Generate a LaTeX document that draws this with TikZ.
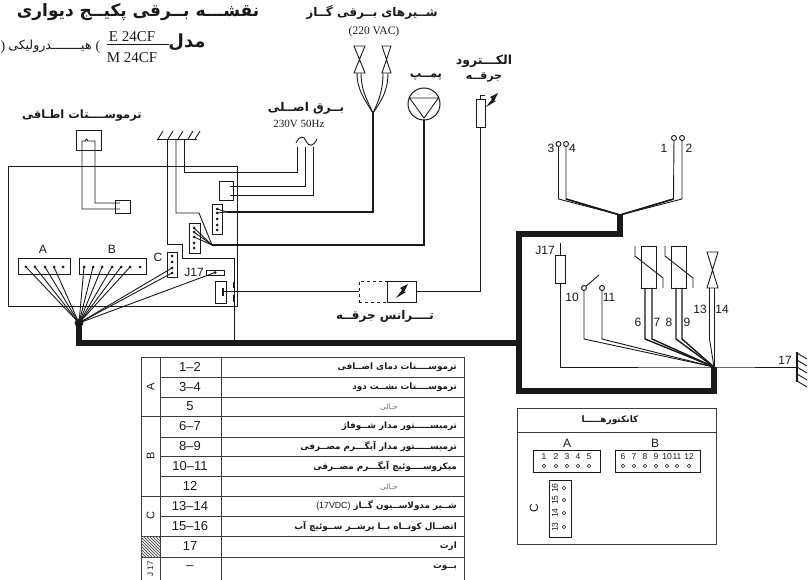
\documentclass[tikz,border=0pt]{standalone}
\usepackage{fontspec}
\setmainfont{Liberation Sans}
\newfontfamily\fa[Script=Arabic]{DejaVu Sans}
\newfontfamily\ser{Liberation Serif}
\TeXXeTstate=1
\newcommand{\fatxt}[1]{{\fa\beginR #1\endR}}
\newcommand{\fsize}[1]{\fontsize{#1}{#1}\selectfont}
\newcommand{\sparkmark}[2]{\fill[ink] (#1-6,#2+7) -- (#1+0,#2-1) -- (#1-2,#2-3) -- (#1+6,#2-7) -- (#1+2,#2+1) -- (#1+4,#2+1) -- cycle;}
\newcommand{\trow}[4]{%
  \node[numcell] (n#1) at (190,#2) {#3};
  \node[txtcell] (t#1) at (457,#2) {#4};}
\colorlet{ink}{black!90}
\usetikzlibrary{calc}
\tikzset{
  x=1pt,y=-1pt,
  wire/.style={draw=ink,line width=0.9pt},
  mwire/.style={draw=ink,line width=1.4pt},
  bus/.style={draw=ink,line width=5.5pt,line join=miter},
  boxn/.style={draw=ink,line width=0.85pt,inner sep=0pt,fill=white,rectangle},
  pin/.style={circle,fill=ink,inner sep=0pt,minimum size=3pt},
  ring/.style={circle,draw=ink,line width=0.9pt,fill=white,inner sep=0pt,minimum size=5pt},
  kring/.style={circle,draw=ink,line width=0.6pt,fill=white,inner sep=0pt,minimum size=3.4pt},
  lab/.style={inner sep=0pt,font=\fsize{12},text=ink},
  numcell/.style={inner sep=0pt,font=\fsize{13},text=ink},
  txtcell/.style={inner sep=0pt,anchor=east,font=\fsize{8.8}\bfseries,text=ink},
  grid/.style={draw=ink!85,line width=1pt},
  fa/.style={inner sep=0pt,text=ink},
  num/.style={inner sep=0pt,font=\fsize{8.5},text=ink},
}
\begin{document}
\begin{tikzpicture}
\useasboundingbox (0,0) rectangle (809,580);
% ---- titles
\node[fa,font=\fsize{17}\bfseries] (title) at (138,12) {\fatxt{نقشـــه بــرقی پکیــج دیواری}};
\node[fa,font=\fsize{18}\bfseries] (model) at (187,42) {\fatxt{مدل}};
\node[inner sep=0pt,font=\fsize{15}\ser,text=ink] (e24) at (132,37) {E 24CF};
\node[inner sep=0pt,font=\fsize{15}\ser,text=ink] (m24) at (132,58) {M 24CF};
\draw[wire] (e24.south west) ++(-2,2.5) coordinate (fracl) -- ++(62,0) coordinate (fracr);
\node[fa,font=\fsize{14}\ser] (hyd1) at (98,47) {(};
\node[fa,font=\fsize{12.5}] (hyd) at (50,46) {\fatxt{هیــــــــدرولیکی}};
\node[fa,font=\fsize{14}\ser] (hyd2) at (3,47) {)};
\node[fa,font=\fsize{11.5}\bfseries] (troom) at (82,116) {\fatxt{ترموســــتات اطـاقی}};
\node[fa,font=\fsize{12}\bfseries] (tmain) at (306,108) {\fatxt{بــرق اصــلی}};
\node[inner sep=0pt,font=\fsize{11}\ser,text=ink] (v230) at (299,124) {230V 50Hz};
\node[fa,font=\fsize{12}\bfseries] (tgas) at (372,13) {\fatxt{شــیرهای بــرقی گــاز}};
\node[inner sep=0pt,font=\fsize{11.5}\ser,text=ink] (v220) at (374,32) {(220 VAC)};
\node[fa,font=\fsize{12.5}\bfseries] (telec) at (484,61) {\fatxt{الکـــترود}};
\node[fa,font=\fsize{11}\bfseries] (tspark) at (484,77) {\fatxt{جرقــه}};
\node[fa,font=\fsize{11.5}\bfseries] (tpump) at (426,77) {\fatxt{پمــپ}};
\node[fa,font=\fsize{12}\bfseries] (ttrans) at (385,316) {\fatxt{تــــرانس جرقــه}};

% ---- board
\node[boxn,fill=none,minimum width=229pt,minimum height=140pt] (board) at (122.5,236) {};
% room thermostat
\node[boxn,minimum width=25pt,minimum height=20pt] (thermo) at (88.5,140) {};
\node[boxn,minimum width=15pt,minimum height=13pt] (tbox) at (122.5,206.5) {};
\coordinate (tp1) at (120,209);
\coordinate (tp2) at (120,203);
\draw[wire] (tp1) -- (82,209) -- (82,141) -- (85,141) .. controls (86,138.5) and (87,138.5) .. (88,141) -- (95,141) -- (95,203) -- (tp2);
% ground
\coordinate (gl) at (157,139);
\coordinate (gr) at (197,139);
\draw[wire] (gl) -- (gr);
\foreach \gx in {158,168,178,188,195}
  \draw[wire] (\gx,139) -- ++(5,-8);
% connectors on board
\node[boxn,minimum width=52pt,minimum height=16pt] (conA) at (44,266) {};
\node[boxn,minimum width=67pt,minimum height=16pt] (conB) at (112.5,266) {};
\node[boxn,minimum width=10pt,minimum height=25pt] (conC) at (172,264.5) {};
\node[boxn,minimum width=18pt,minimum height=5pt] (conJ) at (215,272.5) {};
\node[boxn,minimum width=14pt,minimum height=19pt] (conP) at (226,190.5) {};
\node[boxn,minimum width=10pt,minimum height=30pt] (conQ) at (217,219) {};
\node[boxn,minimum width=11pt,minimum height=30pt] (conR) at (194.5,238) {};
\node[boxn,minimum width=11pt,minimum height=22pt] (conD) at (220.5,292) {};
\node[lab] (lA) at (43,249) {A};
\node[lab] (lB) at (112,249) {B};
\node[lab] (lC) at (158,257) {C};
\node[lab] (lJ) at (194,272) {J17};
\coordinate (fan) at (79,323);
\foreach \n/\x in {1/26,2/35,3/45,4/54,5/63} \node[pin] (a\n) at (\x,267) {};
\foreach \n/\x in {1/84,2/93,3/102,4/112,5/121,6/130,7/140} \node[pin] (b\n) at (\x,267) {};
\foreach \n/\y in {1/256,2/262,3/268,4/273} \node[pin] (c\n) at (172,\y) {};
\node[pin] (j1) at (215,272.5) {};
\foreach \n/\y in {1/209,2/213,3/219,4/225,5/230} \node[pin] (q\n) at (217,\y) {};
\foreach \n/\y in {1/228,2/232,3/237,4/243,5/248} \node[pin] (r\n) at (194,\y) {};
\foreach \n in {1,2,3,4} \draw[wire] (a\n.center) -- (fan);
\foreach \n in {1,2,3,4,5,6} \draw[wire] (b\n.center) -- (fan);
\foreach \n in {3,4} \draw[wire] (c\n.center) -- (fan);
\draw[wire] (j1.center) -- (fan);
\fill[ink] (fan) circle (4.4pt);
% bus
\coordinate (busr) at (519,343);
\coordinate (vfork) at (620,215);
\coordinate (rfan) at (714,367);
\draw[bus] (fan) -- (79,343) -- (busr);
\draw[bus,line join=miter] (vfork) -- (620,234) -- (519,234) -- (519,391) -- (714,391) -- (rfan);
% ground wires from hatch
\coordinate (qj) at (227,212);
\coordinate (rj) at (212,245);
\draw[wire] (167,139) -- (167,244) -- (182,244) -- (182,258) -- (234,258) -- (234,343);
\draw[wire] (176,139) -- (176,213) -- (199,213) -- (rj);
\draw[wire] (184,139) -- (184,172) -- (297,172) -- (297,147);
\draw[wire] (conP.center |- 0,186) ++(4,0) -- (305,186) -- (305,147);
\draw[wire] (conP.center |- 0,195) ++(4,0) -- (313,195) -- (313,147);
\draw[wire] (q1.center) -- (qj);
\draw[wire] (q2.center) -- (qj);
\foreach \n in {1,2,3} \draw[wire] (r\n.center) -- (rj);
% tilde
\draw[wire] (296,143) .. controls (300,135) and (304,136) .. (306,141) .. controls (309,147) and (313,147) .. (317,139);
% gas valves
\coordinate (gasm) at (373,113);
\coordinate (l1) at (357,73); \coordinate (l2) at (361,73);
\coordinate (r1) at (383,73); \coordinate (r2) at (388,73);
\foreach \vx/\hw in {359.5/5.5,386.5/4.5} {
  \draw[wire,fill=white] (\vx-\hw,46) -- (\vx+\hw,46) -- (\vx-\hw,73) -- (\vx+\hw,73) -- cycle;
}
\draw[mwire] (gasm) -- (373,212) -- (qj);
\draw[wire] (l1) .. controls (357,90) and (365,100) .. (gasm);
\draw[wire] (l2) .. controls (361,90) and (367,100) .. (gasm);
\draw[wire] (r1) .. controls (383,90) and (379,100) .. (gasm);
\draw[wire] (r2) .. controls (388,90) and (382,100) .. (gasm);
% pump
\node[circle,draw=ink,line width=1pt,minimum size=32pt,inner sep=0pt,fill=white] (pump) at (424,104) {};
\draw[wire] (409.5,98) -- (438.5,98) -- (424,118) -- cycle;
\draw[line width=2pt,ink] (pump.south) -- (424,245) -- (rj);
% electrode
\node[boxn,minimum width=9pt,minimum height=28pt] (elec) at (480.5,113) {};
\draw[wire] (elec.north) -- ++(0,-3) -- ++(4,0);
\sparkmark{492}{100}
% transformer
\node[boxn,minimum width=29pt,minimum height=21pt] (trs) at (401.5,291.5) {};
\node[draw=ink,dashed,line width=0.9pt,inner sep=0pt,minimum width=28pt,minimum height=21pt] (trd) at (373,291.5) {};
\sparkmark{402}{291}
\draw[wire] (elec.south) -- (480.5,291) -- (trs.east |- 0,291);
\draw[wire] (trd.west |- 0,291) -- (224,291);
\draw[line width=2.2pt,ink] (223,288) -- (223,296);
\draw[line width=2pt,ink] (233.5,282) -- (233.5,288) (233.5,295) -- (233.5,302);

% ---- right wiring
\coordinate (w3) at (558.5,199); \coordinate (w4) at (566,199);
\coordinate (w1) at (673.5,199); \coordinate (w2) at (682,199);
\node[ring] (s3) at (558.5,144) {};
\node[ring] (s4) at (566,144) {};
\node[ring] (s1) at (674,138) {};
\node[ring] (s2) at (682,138) {};
\draw[wire] (s3) -- (w3) -- (vfork);
\draw[wire] (s4) -- (w4) -- (vfork);
\draw[wire] (s1) -- (w1) -- (vfork);
\draw[wire] (s2) -- (w2) -- (vfork);
\draw[line width=1.6pt,ink] (w4) -- (vfork) -- (w1);
\node[lab] (l3) at (551,148) {3};
\node[lab] (l4) at (572.5,148) {4};
\node[lab] (l1t) at (664,148) {1};
\node[lab] (l2t) at (689,148) {2};
% J17 resistor
\node[boxn,minimum width=10pt,minimum height=28pt] (rj17) at (560,269) {};
\draw[wire] (rj17.north) -- (560,243);
\coordinate (g17) at (797,367);
\draw[wire] (rj17.south) -- (560,367) -- (rfan) -- (g17);
\node[lab] (lj17) at (545,250) {J17};
% switch
\node[ring] (s10) at (584,288) {};
\node[ring] (s11) at (602,288) {};
\draw[wire] (s10) -- (599,275);
\draw[wire] (s10) -- (584,339) -- (rfan);
\draw[wire] (s11) -- (602,339) -- (rfan);
\node[lab] (l10) at (572,297) {10};
\node[lab] (l11) at (609,297) {11};
% thermistors
\node[boxn,minimum width=15pt,minimum height=42pt] (th1) at (648.5,267) {};
\node[boxn,minimum width=15pt,minimum height=42pt] (th2) at (678.5,267) {};
\draw[wire] (635,246) -- (635,256) -- (663,278) -- (663,288);
\draw[wire] (665,246) -- (665,256) -- (693,278) -- (693,288);
\draw[mwire] (645,288) -- (645,339) -- (rfan);
\draw[mwire] (652,288) -- (652,339) -- (rfan);
\draw[mwire] (676,288) -- (676,339) -- (rfan);
\draw[mwire] (682,288) -- (682,339) -- (rfan);
\node[lab] (l6) at (638,322) {6};
\node[lab] (l7) at (657,322) {7};
\node[lab] (l8) at (669,322) {8};
\node[lab] (l9) at (687,322) {9};
% right valve
\draw[wire,fill=white] (707,252) -- (718,252) -- (707,288) -- (718,288) -- cycle;
\draw[wire] (709.5,288) -- (709.5,339) -- (rfan);
\draw[wire] (714,288) -- (rfan);
\node[lab] (l13) at (700,309) {13};
\node[lab] (l14) at (722,309) {14};
% 17 ground
\draw[line width=1.3pt,ink] (797,352) -- (797,382);
\foreach \gy in {353,360,367,374,381} \draw[wire] (797,\gy) -- ++(10,6);
\node[lab] (l17) at (785,360) {17};

% ---- table
\draw[grid] (141,357) rectangle (464,580);
\draw[grid] (160,357) -- (160,580);
\draw[grid] (221,357) -- (221,580);
\foreach \y in {377,397,437,456,476,516,557} \draw[grid] (160,\y) -- (464,\y);
\foreach \y in {416,496,536} \draw[grid] (141,\y) -- (464,\y);
\draw[grid] (141,557) -- (464,557);
\begin{scope}
\clip (141,536) rectangle (160,557);
\foreach \i in {0,3,...,42} \draw[line width=0.8pt,ink!70] (139+\i,559) -- ++(-24,-24);
\end{scope}
\node[inner sep=0pt,rotate=90,font=\fsize{11},text=ink] (ga) at (150.5,386.5) {A};
\node[inner sep=0pt,rotate=90,font=\fsize{11},text=ink] (gb) at (150.5,456) {B};
\node[inner sep=0pt,rotate=90,font=\fsize{11},text=ink] (gc) at (150.5,516) {C};
\node[inner sep=0pt,rotate=90,font=\fsize{8},text=ink] (gj) at (150.5,569) {J 17};
\trow{1}{367}{1–2}{\fatxt{ترموســــتات دمای اضــافی}}
\trow{2}{387}{3–4}{\fatxt{ترموســــتات نشــت دود}}
\node[numcell] (n3) at (190,406.5) {5};
\node[inner sep=0pt,font=\fsize{7.5},text=black!55] (t3) at (389,407) {\fatxt{خـالی}};
\trow{4}{426.5}{6–7}{\fatxt{ترمیســـــتور مدار شــوفاژ}}
\trow{5}{446.5}{8–9}{\fatxt{ترمیســـــتور مدار آبگـــرم مصــرفی}}
\trow{6}{466}{10–11}{\fatxt{میکروســــوئیچ آبگـــرم مصــرفی}}
\node[numcell] (n7) at (190,486) {12};
\node[inner sep=0pt,font=\fsize{7.5},text=black!55] (t7) at (389,487) {\fatxt{خـالی}};
\trow{8}{506}{13–14}{\fatxt{شــیر مدولاســیون گــاز \beginL\normalfont(17VDC)\endL}}
\trow{9}{526}{15–16}{\fatxt{اتصــال کوتــاه بــا پرشــر ســوئیچ آب}}
\trow{10}{546.5}{17}{\fatxt{ارت}}
\trow{11}{568}{–}{\fatxt{بــوت}}

% ---- connector legend
\draw[grid] (517,408) rectangle (716,544);
\draw[grid] (517,432) -- (716,432);
\node[fa,font=\fsize{9}\bfseries] (tconn) at (610,420) {\fatxt{کانکتورهـــــا}};
\node[boxn,minimum width=67pt,minimum height=22pt] (keyA) at (566.5,461) {};
\node[boxn,minimum width=85pt,minimum height=22pt] (keyB) at (657.5,461) {};
\node[boxn,minimum width=22pt,minimum height=57pt] (keyC) at (560,508.5) {};
\node[lab] (kA) at (567,443) {A};
\node[lab] (kB) at (655,443) {B};
\node[lab,rotate=90] (kC) at (534,508) {C};
\foreach \t/\x in {1/544,2/556,3/567,4/578,5/589} {
  \node[num] at (\x,457) {\t};
  \node[kring] at (\x,466) {};
}
\foreach \t/\x in {6/623,7/634,8/645,9/656,10/667,11/677,12/689} {
  \node[num] at (\x,457) {\t};
  \node[kring] at (\x,466) {};
}
\foreach \t/\y in {16/488,15/500,14/513,13/527} {
  \node[num,rotate=90] at (555,\y) {\t};
  \node[kring] at (564,\y) {};
}
\end{tikzpicture}
\end{document}
